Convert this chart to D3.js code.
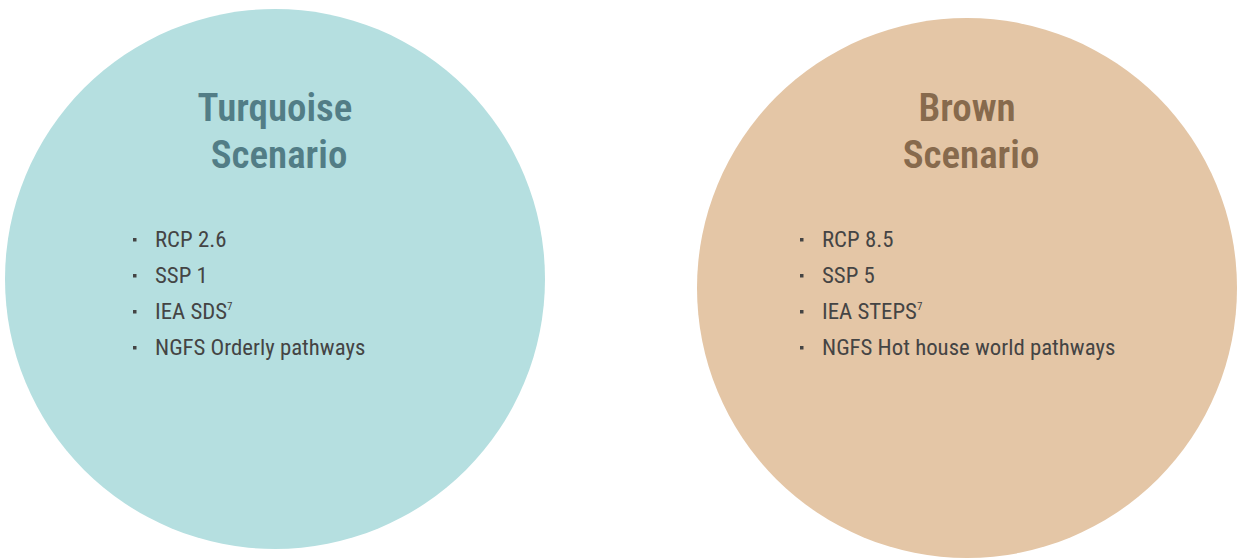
<!DOCTYPE html>
<html>
<head>
<meta charset="utf-8">
<script src="https://cdn.jsdelivr.net/npm/d3@7"></script>
<style>
  body { margin: 0; background: #fff; }
  text { font-family: 'Roboto Condensed', 'Roboto', sans-serif; font-stretch: condensed; }
</style>
</head>
<body>
<svg id="chart" width="1240" height="558"></svg>
<script>
// scenario circles
const scenarios = ["Turquoise", "Brown"];
const titleLines = [["Turquoise", "Scenario"], ["Brown", "Scenario"]];
const fillColors = ["#b5dfe0", "#e4c6a6"];
const titleColors = ["#527d86", "#876a4d"];

// bullet items, each with an optional superscript
const items = [
    ["RCP 2.6", "SSP 1", "IEA SDS", "NGFS Orderly pathways"],
    ["RCP 8.5", "SSP 5", "IEA STEPS", "NGFS Hot house world pathways"]
];
const superscripts = [
    ["", "", "7", ""],
    ["", "", "7", ""]
];

(function() {
    'use strict';

    const radius = 270;

    const svg = d3.select('#chart');

    const xScale = d3.scalePoint()
        .domain(scenarios)
        .range([275, 967]);

    // slight vertical shift of the right circle
    const cyFor = i => i === 0 ? 279 : 288;
    // list block starts a bit further left in the right circle
    const listOffset = [-120, -145];

    const yItem = d3.scaleLinear()
        .domain([0, 3])
        .range([247, 355]);

    scenarios.forEach((name, i) => {
        const cx = xScale(name);
        const g = svg.append('g');

        g.append('circle')
            .attr('cx', cx)
            .attr('cy', cyFor(i))
            .attr('r', radius)
            .attr('fill', fillColors[i]);

        // title
        g.selectAll('text.title')
            .data(titleLines[i])
            .enter()
            .append('text')
            .attr('class', 'title')
            .attr('x', (d, j) => cx + (j === 1 ? 4 : 0))
            .attr('y', (d, j) => 121 + j * 47)
            .attr('text-anchor', 'middle')
            .attr('fill', titleColors[i])
            .style('font-size', '39px')
            .style('font-weight', '600')
            .text(d => d);

        // bullets
        const listX = cx + listOffset[i];
        g.selectAll('rect.bullet')
            .data(items[i])
            .enter()
            .append('rect')
            .attr('class', 'bullet')
            .attr('x', listX - 22)
            .attr('y', (d, j) => yItem(j) - 9)
            .attr('width', 3.5)
            .attr('height', 3.5)
            .attr('fill', '#444');

        const labels = g.selectAll('text.item')
            .data(items[i])
            .enter()
            .append('text')
            .attr('class', 'item')
            .attr('x', listX)
            .attr('y', (d, j) => yItem(j))
            .attr('fill', '#444444')
            .style('font-size', '22.8px')
            .style('font-weight', '400');

        labels.append('tspan').text(d => d);
        labels.append('tspan')
            .attr('dy', -9)
            .style('font-size', '11px')
            .text((d, j) => superscripts[i][j]);
    });
})();
</script>
</body>
</html>
